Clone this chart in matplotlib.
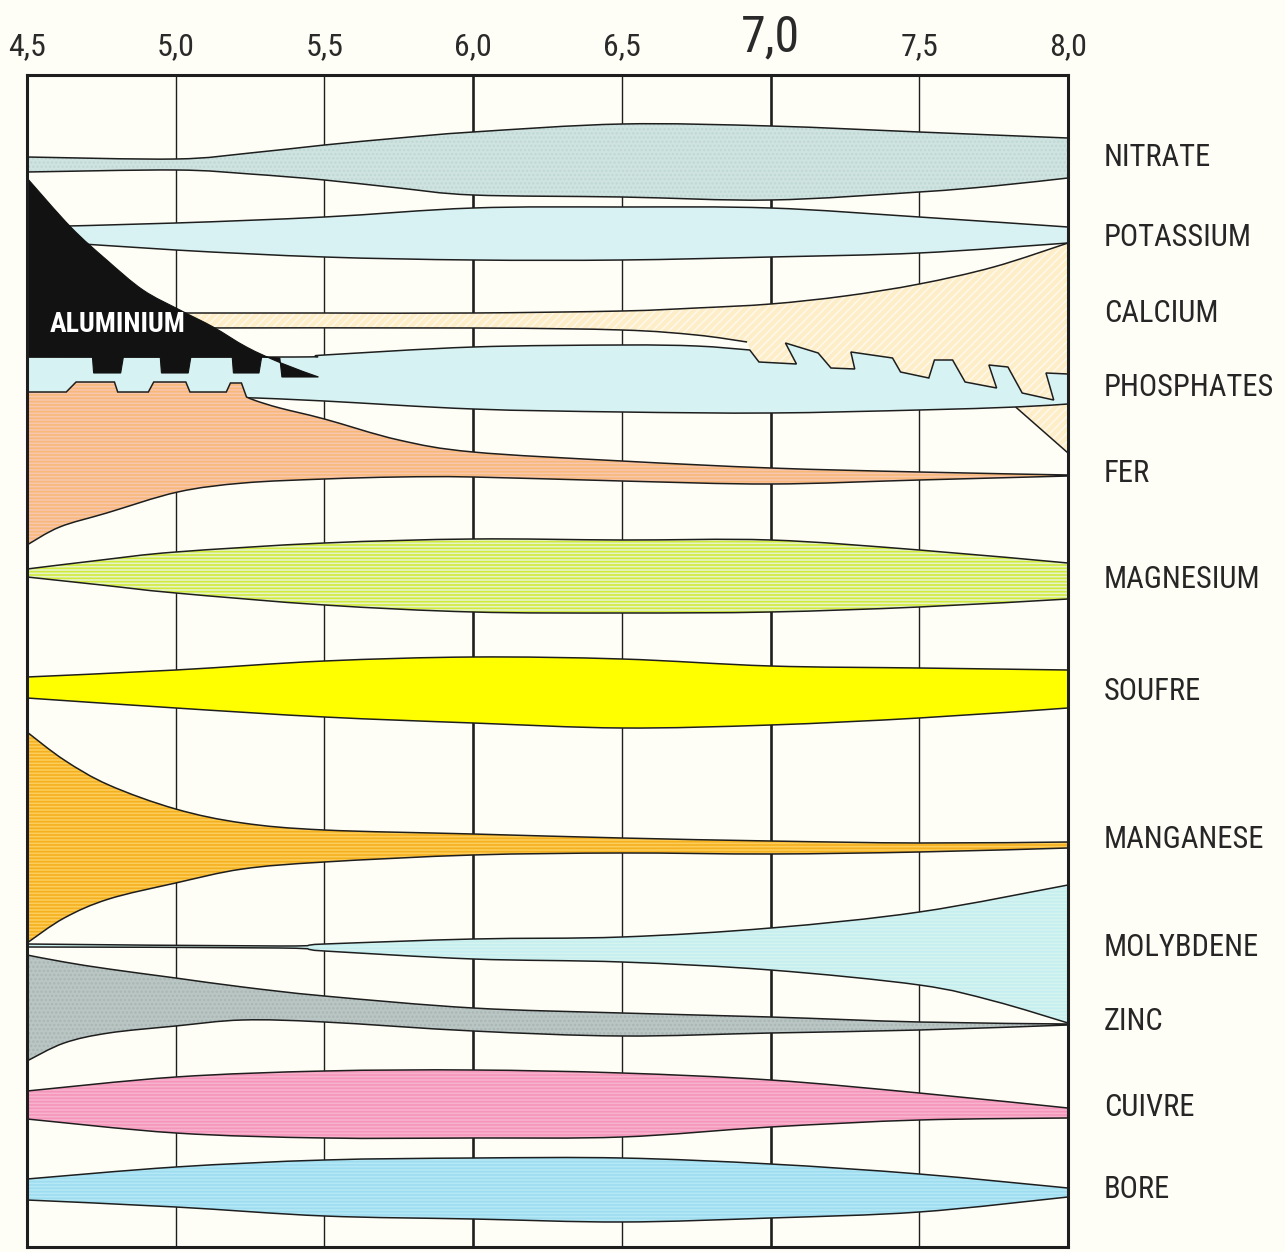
import matplotlib
matplotlib.use("Agg")
import matplotlib.pyplot as plt
from matplotlib import font_manager
from matplotlib.path import Path
from matplotlib.patches import PathPatch

# pH scale
PH_TICKS = [4.5, 5.0, 5.5, 6.0, 6.5, 7.0, 7.5, 8.0]
PH_LABELS = ["4,5", "5,0", "5,5", "6,0", "6,5", "7,0", "7,5", "8,0"]
PH = [4.5, 5.0, 5.5, 6.0, 6.5, 7.0, 7.5, 8.0]

# band edges, in rows of the drawing (0 = top)
NIT_PH = [4.5, 5.0, 5.25, 5.5, 5.75, 6.0, 6.5, 7.0, 7.5, 7.75, 8.0]
NIT_TOP = [157, 159, 153, 145, 138, 132, 124, 126, 132, 135, 138]
NIT_BOT = [172, 170, 174, 180, 188, 195, 197, 200, 192, 186, 178]

POT_TOP = [227, 223, 217, 208, 207, 208, 217, 227]
POT_BOT = [240, 250, 257, 260, 260, 257, 253, 243]

CA_PH = [5.0, 5.5, 6.0, 6.5, 6.75, 7.0, 7.25, 7.5, 7.75, 8.0]
CA_TOP = [313, 313, 313, 311, 308, 304, 296, 284, 267, 243]
CA_LOW_PH = [5.0, 6.0, 6.5, 6.75, 6.921]
CA_LOW = [328, 328, 330, 335, 342]
CA_TAIL_PH = [7.0, 7.5, 7.824, 8.0]
CA_TAIL = [400, 404, 407, 453]

# saw-tooth edge between calcium and phosphates
SAW_PH = [6.961, 7.087, 7.050, 7.160, 7.203, 7.283, 7.270, 7.410, 7.437, 7.532,
          7.551, 7.612, 7.654, 7.760, 7.734, 7.798, 7.846, 7.952, 7.926, 8.0]
SAW_Y = [362, 364, 343, 353, 368, 369, 352, 358, 372, 378,
         360, 360, 382, 388, 365, 367, 393, 400, 373, 374]

PHO_TOP_PH = [4.5, 5.4, 5.5, 6.0, 6.5, 6.75, 6.93]
PHO_TOP = [357, 357, 355, 347, 345, 346, 350]
PHO_BOT_PH = [5.272, 5.5, 6.0, 6.5, 7.0, 7.5, 7.824, 8.0]
PHO_BOT = [398, 401, 409, 412, 413, 410, 407, 404]

FER_TEETH_PH = [4.5, 4.632, 4.665, 4.794, 4.805, 4.908, 4.926, 5.034, 5.048, 5.170,
                5.184, 5.221, 5.238]
FER_TEETH = [392, 392, 382, 382, 392, 392, 382, 382, 392, 392, 383, 383, 397]
FER_TOP_PH = [5.238, 5.272, 5.35, 5.5, 5.75, 6.0, 6.5, 7.0, 7.5, 8.0]
FER_TOP = [397, 401, 408, 419, 440, 452, 461, 468, 472, 475]
FER_BOT_PH = [4.5, 4.61, 4.768, 5.007, 5.228, 5.5, 5.75, 6.0, 6.5, 7.0, 7.5, 8.0]
FER_BOT = [545, 527, 513, 492, 483, 479, 477, 477, 481, 484, 480, 476]

MG_PH = [4.5, 4.75, 5.0, 5.5, 6.0, 6.5, 7.0, 7.5, 8.0]
MG_TOP = [569, 560, 552, 543, 539, 540, 540, 550, 563]
MG_BOT = [577, 585, 593, 605, 612, 613, 612, 607, 599]

S_TOP = [677, 670, 661, 657, 659, 666, 668, 670]
S_BOT = [698, 708, 717, 723, 728, 725, 718, 708]

MN_PH = [4.5, 4.625, 4.775, 5.0, 5.225, 5.5, 6.0, 6.5, 7.0, 7.5, 8.0]
MN_TOP = [732, 760, 785, 809, 823, 830, 834, 838, 841, 843, 842]
MN_BOT = [943, 918, 899, 883, 869, 862, 855, 853, 854, 852, 848]

MO_PH = [4.5, 5.35, 5.5, 6.0, 6.5, 7.0, 7.5, 8.0]
MO_TOP = [944, 946, 944, 939, 937, 928, 912, 885]
MO_BOT_PH = [4.5, 5.35, 5.5, 6.0, 6.5, 7.0, 7.5, 7.75, 8.0]
MO_BOT = [947, 948, 951, 959, 962, 970, 985, 1001, 1023]

ZN_PH = [4.5, 4.625, 4.775, 5.0, 5.225, 5.5, 6.0, 6.5, 7.0, 7.5, 8.0]
ZN_TOP = [955, 962, 969, 978, 987, 996, 1008, 1013, 1017, 1022, 1024]
ZN_BOT = [1061, 1043, 1033, 1026, 1020, 1022, 1031, 1036, 1033, 1030, 1025]

CU_TOP = [1091, 1077, 1071, 1070, 1073, 1080, 1093, 1108]
CU_BOT = [1119, 1133, 1138, 1138, 1137, 1127, 1120, 1118]

B_TOP = [1179, 1167, 1160, 1158, 1158, 1164, 1174, 1188]
B_BOT = [1200, 1207, 1216, 1219, 1222, 1218, 1212, 1197]

# aluminium: curved edge, then toothed lower edge
AL_EDGE_PH = [4.5, 4.647, 4.768, 4.890, 5.014, 5.126, 5.238, 5.354, 5.48]
AL_EDGE = [178, 227, 260, 290, 310, 327, 347, 363, 377]
AL_TEETH_PH = [5.48, 5.357, 5.350, 5.289, 5.280, 5.194, 5.190, 5.051, 5.042, 4.952,
               4.948, 4.824, 4.815, 4.724, 4.720, 4.5]
AL_TEETH = [377, 377, 358, 357, 373, 373, 357, 357, 373, 373,
            357, 357, 373, 373, 357, 357]

NAMES = ["NITRATE", "POTASSIUM", "CALCIUM", "PHOSPHATES", "FER", "MAGNESIUM",
         "SOUFRE", "MANGANESE", "MOLYBDENE", "ZINC", "CUIVRE", "BORE"]
NAME_ROWS = [158, 238, 314, 387, 473, 580, 692, 840, 948, 1022, 1107, 1190]

BG = "#fffef6"
INK = "#1e1e1e"
LW = 1.1

avail = {f.name for f in font_manager.fontManager.ttflist}
cond = [f for f in ["Liberation Sans Narrow", "DejaVu Sans Condensed", "Roboto Condensed"] if f in avail]
FONT = cond + ["Liberation Sans", "DejaVu Sans"]

plt.rcParams["hatch.linewidth"] = 1.2

fig = plt.figure(figsize=(12.85, 12.52), dpi=100, facecolor=BG)
ax = fig.add_axes([27 / 1285, 5 / 1252, (1068 - 27) / 1285, (1247 - 75) / 1252])
ax.set_facecolor(BG)
ax.set_xlim(4.5, 8.0)
ax.set_ylim(1247, 75)


def pieces_to_path(pieces, close=True):
    """pieces: list of (xs, ys, smooth). Smooth pieces become Catmull-Rom beziers."""
    verts, codes = [], []
    for xs, ys, smooth in pieces:
        pts = list(zip(xs, ys))
        verts.append(pts[0])
        codes.append(Path.MOVETO if len(codes) == 0 else Path.LINETO)
        if not smooth:
            for p in pts[1:]:
                verts.append(p)
                codes.append(Path.LINETO)
            continue
        n = len(pts)
        for i in range(n - 1):
            p0 = pts[max(i - 1, 0)]
            p1 = pts[i]
            p2 = pts[i + 1]
            p3 = pts[min(i + 2, n - 1)]
            c1 = (p1[0] + (p2[0] - p0[0]) / 6, p1[1] + (p2[1] - p0[1]) / 6)
            c2 = (p2[0] - (p3[0] - p1[0]) / 6, p2[1] - (p3[1] - p1[1]) / 6)
            verts += [c1, c2, p2]
            codes += [Path.CURVE4] * 3
    if close:
        verts.append(verts[0])
        codes.append(Path.CLOSEPOLY)
    return Path(verts, codes)


def draw(pieces, face, hatch=None, hcolor=None, z=2, outline=True):
    path = pieces_to_path(pieces)
    ax.add_patch(PathPatch(path, facecolor=face, edgecolor="none", lw=0, zorder=z))
    if hatch:
        ax.add_patch(PathPatch(path, facecolor="none", edgecolor=hcolor, hatch=hatch,
                               lw=0, zorder=z + 0.01))
    if outline:
        ax.add_patch(PathPatch(path, facecolor="none", edgecolor=INK, lw=LW,
                               zorder=z + 0.02))


def line(pieces, z):
    ax.add_patch(PathPatch(pieces_to_path(pieces, close=False), facecolor="none",
                           edgecolor=INK, lw=LW, zorder=z))


def simple(ph, top, bot, face, hatch=None, hcolor=None, z=2, ph_bot=None):
    ph_bot = ph if ph_bot is None else ph_bot
    draw([(ph, top, True), (ph_bot[::-1], bot[::-1], True)], face, hatch, hcolor, z)


# vertical grid
for t in PH_TICKS[1:-1]:
    ax.axvline(t, color=INK, lw=1.9 if t in (6.0, 7.0) else 1.0, zorder=1)

simple(NIT_PH, NIT_TOP, NIT_BOT, "#cfe4e0", "....", "#bfd8d4")
simple(PH, POT_TOP, POT_BOT, "#d8f2f3")

# calcium (partly hidden under phosphates)
draw([(CA_PH, CA_TOP, True), (CA_TAIL_PH[::-1], CA_TAIL[::-1], False),
      (CA_LOW_PH[::-1], CA_LOW[::-1], True)],
     "#fdeec8", "////", "#fff8ea", z=2, outline=False)
line([(CA_PH, CA_TOP, True)], 2.1)
line([(CA_LOW_PH, CA_LOW, True)], 2.1)
line([(CA_TAIL_PH[2:], CA_TAIL[2:], False)], 2.1)

draw([(PHO_TOP_PH, PHO_TOP, True), (SAW_PH, SAW_Y, False),
      (PHO_BOT_PH[::-1], PHO_BOT[::-1], True), ([4.5], [393], False)],
     "#d7f2f2", z=3)

draw([(FER_TEETH_PH, FER_TEETH, False), (FER_TOP_PH, FER_TOP, True),
      (FER_BOT_PH[::-1], FER_BOT[::-1], True)],
     "#f9c6ae", "-----", "#f7b878", z=4)

simple(MG_PH, MG_TOP, MG_BOT, "#e6f4c8", "-----", "#d2ea3c")
simple(PH, S_TOP, S_BOT, "#ffff00")
simple(MN_PH, MN_TOP, MN_BOT, "#fccd5a", "-----", "#f5b01e")
simple(MO_PH, MO_TOP, MO_BOT, "#d6f4ef", "-----", "#c4eef0", ph_bot=MO_BOT_PH)
simple(ZN_PH, ZN_TOP, ZN_BOT, "#b9c6c4", "....", "#a9b6b4")
simple(PH, CU_TOP, CU_BOT, "#f8b3cc", "-----", "#f595bb")
simple(PH, B_TOP, B_BOT, "#b4e8f6", "-----", "#9edcf0")

# aluminium
al = pieces_to_path([(AL_EDGE_PH, AL_EDGE, True), (AL_TEETH_PH, AL_TEETH, False)])
ax.add_patch(PathPatch(al, facecolor="#121212", edgecolor="#121212", lw=0.8, zorder=6))
ax.text(4.805, 325, "ALUMINIUM", color="white", fontsize=20, fontweight="bold",
        family=FONT, ha="center", va="center", zorder=7)

# right-hand labels
for name, row in zip(NAMES, NAME_ROWS):
    ax.text(8.12, row, name, fontsize=22, family=FONT, color="#262626",
            ha="left", va="center", clip_on=False)

# frame and top scale
for s in ax.spines.values():
    s.set_linewidth(2.2)
    s.set_color(INK)
    s.set_zorder(10)
ax.set_yticks([])
ax.xaxis.tick_top()
ax.set_xticks(PH_TICKS)
ax.set_xticklabels(PH_LABELS, family=FONT, fontsize=23, color="#2a2a2a")
ax.tick_params(axis="x", length=0, pad=10)
for lab, t in zip(ax.get_xticklabels(), PH_TICKS):
    if t == 7.0:
        lab.set_fontsize(36)

fig.savefig("out.png", dpi=100, facecolor=BG)
